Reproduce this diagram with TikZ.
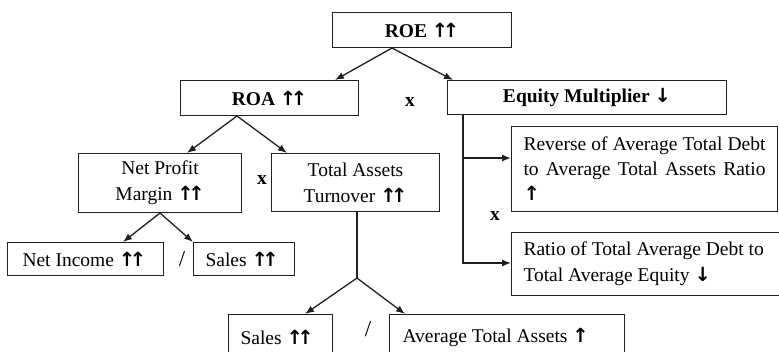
\documentclass[tikz,border=0pt]{standalone}
\usepackage{fontspec}
\setmainfont{Liberation Serif}
\newfontfamily\arrowfont{DejaVu Sans}
\usetikzlibrary{arrows.meta,calc}
\newcommand\uparr{{\arrowfont\bfseries ↑}}
\newcommand\dnarr{{\arrowfont\bfseries ↓}}
\newcommand\upup{{\arrowfont\bfseries ↑\kern-0.28em↑}}
\begin{document}
\begin{tikzpicture}[x=1pt,y=-1pt,
  font=\fontsize{19.5}{25}\selectfont,
  box/.style={draw=black!88, line width=1pt, inner sep=0pt, anchor=north west,
    execute at begin node={\spaceskip=0pt\xspaceskip=0pt\relax}},
  lbox/.style={box, align=left},
  conn/.style={line width=1.3pt, draw=black!88, -{Latex[length=9pt,width=7pt]}},
  plain/.style={line width=1.3pt, draw=black!88},
  op/.style={font=\fontsize{19.5}{25}\selectfont\bfseries},
  sl/.style={font=\fontsize{23}{25}\selectfont}]
\useasboundingbox (0,0) rectangle (779,351);
\clip (0,0) rectangle (779,351);
% boxes
\node[box, minimum width=179, minimum height=35, font=\fontsize{19.5}{25}\selectfont\bfseries] (roe) at (332,12) {ROE \upup};
\node[box, minimum width=178, minimum height=35, font=\fontsize{19.5}{25}\selectfont\bfseries] (roa) at (180,80) {ROA \upup};
\node[box, minimum width=279, minimum height=34, font=\fontsize{19.5}{25}\selectfont\bfseries] (eq) at (447,80) {Equity Multiplier \dnarr};
\node[box, minimum width=163, minimum height=59, align=center, font=\fontsize{19.5}{26}\selectfont] (npm) at (78,153) {Net Profit\\Margin \upup};
\node[box, minimum width=168, minimum height=58, align=center, font=\fontsize{19.5}{26}\selectfont] (tat) at (271,153) {Total Assets\\Turnover \upup};
\node[lbox, text width=126, inner xsep=15, minimum height=33] (ni) at (7,242) {Net Income \upup};
\node[lbox, text width=77, inner xsep=12, minimum height=33] (sa1) at (193,242) {Sales \upup};
\node[box, align=justify, text width=242, inner xsep=12, minimum height=85] (rev) at (511,126) {Reverse of Average Total Debt to Average Total Assets Ratio\linebreak \uparr};
\node[lbox, text width=250, inner xsep=12, minimum height=63, font=\fontsize{19.5}{26}\selectfont] (rat) at (511,232) {Ratio of Total Average Debt to\\Total Average Equity \dnarr};
\node[lbox, text width=80, inner xsep=12, minimum height=46] (sa2) at (228,314) {Sales \upup};
\node[lbox, text width=209, inner xsep=13, minimum height=46] (ata) at (389,314) {Average Total Assets \uparr};
% operators
\node[op] (x1) at (410,102) {x};
\node[op] (x2) at (262,180) {x};
\node[op] (x3) at (495,216) {x};
\node[sl] (s1) at (182,259) {/};
\node[sl] (s2) at (368,329) {/};
% connectors
\coordinate (roeA) at ($(roe.south west)+(60,0)$);
\draw[conn] (roeA) -- ($(roa.north west)+(155,0)$);
\draw[conn] (roeA) -- ($(eq.north west)+(6,0)$);
\coordinate (roaA) at ($(roa.south west)+(57,0)$);
\draw[conn] (roaA) -- ($(npm.north west)+(109,0)$);
\draw[conn] (roaA) -- ($(tat.north west)+(16,0)$);
\coordinate (npmA) at ($(npm.south west)+(82,0)$);
\draw[conn] (npmA) -- ($(ni.north west)+(116,0)$);
\draw[conn] (npmA) -- (sa1.north west);
\coordinate (tatS) at ($(tat.south west)+(86,0)$);
\coordinate (tatJ) at ($(tatS)+(0,66)$);
\draw[plain] (tatS) -- (tatJ);
\draw[conn] (tatJ) -- ($(sa2.north west)+(77,0)$);
\draw[conn] (tatJ) -- ($(ata.north west)+(16,0)$);
\coordinate (eqS) at ($(eq.south west)+(16,0)$);
\coordinate (revT) at ($(rev.north west)+(0,32)$);
\coordinate (ratT) at ($(rat.north west)+(0,31)$);
\draw[conn] (eqS) |- (ratT);
\draw[conn] (eqS |- revT) -- (revT);
\end{tikzpicture}
\end{document}
